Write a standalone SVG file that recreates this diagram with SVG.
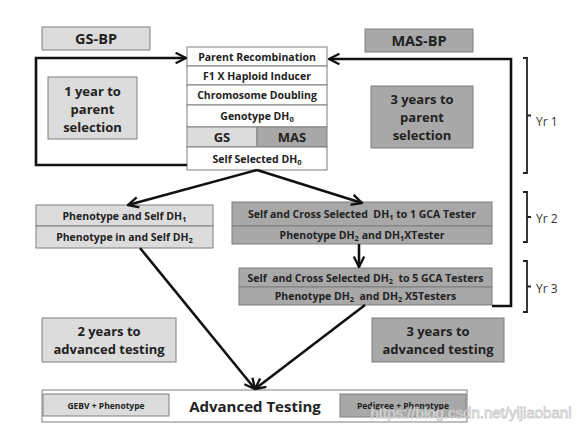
<svg xmlns="http://www.w3.org/2000/svg" width="587" height="431" viewBox="0 0 587 431">
<defs>
<marker id="ah" viewBox="0 0 10 10" refX="9" refY="5" markerWidth="5" markerHeight="5" orient="auto" markerUnits="strokeWidth">
<path d="M1,1 L9,5 L1,9" fill="none" stroke="#111" stroke-width="1.8"/>
</marker>
<style>
.lt{fill:#dcdcdc;stroke:#7f7f7f;stroke-width:1}
.dk{fill:#a8a8a8;stroke:#7f7f7f;stroke-width:1}
.wh{fill:#fff;stroke:#7f7f7f;stroke-width:1}
text{font-family:"Open Sans","Liberation Sans",sans-serif;font-weight:bold;fill:#222;text-anchor:middle;dominant-baseline:central}
.s{font-size:10.5px}
.b{font-size:13px}
.h{font-size:14.5px}
.yr{font-weight:normal;font-size:12px;text-anchor:start;fill:#333}
.sub{font-size:7.5px}
.c{fill:none;stroke:#111;stroke-width:2.6}
.br{fill:none;stroke:#222;stroke-width:1.8}
</style>
</defs>
<rect width="587" height="431" fill="#fff"/>

<g id="gs-bp"><rect class="lt" x="42" y="27" width="108" height="23"/><text class="h" x="96" y="38.5">GS-BP</text></g>
<g id="mas-bp"><rect class="dk" x="365" y="29" width="108" height="23"/><text class="h" x="419" y="40.5">MAS-BP</text></g>

<g id="yr1-gs"><rect class="lt" x="48" y="77" width="89" height="62"/><text class="b" x="92.5" y="91">1 year to</text><text class="b" x="92.5" y="109">parent</text><text class="b" x="92.5" y="127">selection</text></g>
<g id="yr3-mas"><rect class="dk" x="371" y="86" width="102" height="62"/><text class="b" x="422" y="99">3 years to</text><text class="b" x="422" y="117">parent</text><text class="b" x="422" y="135">selection</text></g>

<g id="stack">
<rect class="wh" x="187" y="47" width="140" height="19"/><text class="s" x="257" y="56.5">Parent Recombination</text>
<rect class="wh" x="187" y="66" width="140" height="19"/><text class="s" x="257" y="75.5">F1 X Haploid Inducer</text>
<rect class="wh" x="187" y="85" width="140" height="20"/><text class="s" x="257" y="95">Chromosome Doubling</text>
<rect class="wh" x="187" y="105" width="140" height="22"/><text class="s" x="257" y="116">Genotype DH<tspan class="sub" dy="3">0</tspan></text>
<rect class="lt" x="187" y="127" width="70" height="20"/><text class="b" x="222" y="137">GS</text>
<rect class="dk" x="257" y="127" width="70" height="20"/><text class="b" x="292" y="137">MAS</text>
<rect class="wh" x="187" y="147" width="140" height="23"/><text class="s" x="257" y="158.5">Self Selected DH<tspan class="sub" dy="3">0</tspan></text>
</g>

<g id="gs-pheno">
<rect class="lt" x="36" y="205" width="177" height="21"/><text class="s" x="124.5" y="215.5">Phenotype and Self DH<tspan class="sub" dy="3">1</tspan></text>
<rect class="lt" x="36" y="226" width="177" height="22"/><text class="s" x="124.5" y="237">Phenotype in and Self DH<tspan class="sub" dy="3">2</tspan></text>
</g>

<g id="mas-1gca">
<rect class="dk" x="232" y="202" width="260" height="24"/><text class="s" x="362" y="214" xml:space="preserve">Self and Cross Selected  DH<tspan class="sub" dy="3">1</tspan><tspan dy="-3"> to 1 GCA Tester</tspan></text>
<rect class="dk" x="232" y="226" width="260" height="18"/><text class="s" x="362" y="235">Phenotype DH<tspan class="sub" dy="3">2</tspan><tspan dy="-3"> and DH</tspan><tspan class="sub" dy="3">1</tspan><tspan dy="-3">XTester</tspan></text>
</g>

<g id="mas-5gca">
<rect class="dk" x="239" y="268" width="253" height="19"/><text class="s" x="365.5" y="277.5" xml:space="preserve">Self  and Cross Selected DH<tspan class="sub" dy="3">2</tspan><tspan dy="-3">  to 5 GCA Testers</tspan></text>
<rect class="dk" x="239" y="287" width="253" height="18"/><text class="s" x="365.5" y="296" xml:space="preserve">Phenotype DH<tspan class="sub" dy="3">2</tspan><tspan dy="-3">  and DH</tspan><tspan class="sub" dy="3">2</tspan><tspan dy="-3"> X5Testers</tspan></text>
</g>

<g id="yr2-adv"><rect class="lt" x="42" y="318" width="134" height="44"/><text class="b" x="109" y="331">2 years to</text><text class="b" x="109" y="349">advanced testing</text></g>
<g id="yr3-adv"><rect class="dk" x="372" y="318" width="132" height="44"/><text class="b" x="438" y="331">3 years to</text><text class="b" x="438" y="349">advanced testing</text></g>

<g id="advanced">
<rect class="wh" x="42" y="390" width="425" height="32" stroke="#555"/>
<rect class="lt" x="43" y="394" width="126" height="22"/><text x="106" y="405" style="font-size:8.5px">GEBV + Phenotype</text>
<rect class="dk" x="340" y="394" width="126" height="23"/><text x="403" y="405.5" style="font-size:8.5px">Pedigree + Phenotype</text>
<text x="255" y="406" style="font-size:15px">Advanced Testing</text>
</g>

<g id="years">
<path class="br" d="M523,58 H527 V173 H523 M527,115.5 H531"/><text class="yr" x="536" y="121">Yr 1</text>
<path class="br" d="M523,192 H527 V242 H523 M527,217 H531"/><text class="yr" x="536" y="218">Yr 2</text>
<path class="br" d="M523,261 H527 V312 H523 M527,286.5 H531"/><text class="yr" x="536" y="288">Yr 3</text>
</g>

<g id="connectors">
<path class="c" d="M187,165 H36 V58 H186" marker-end="url(#ah)"/>
<path class="c" d="M492,306 H511 V59 H329" marker-end="url(#ah)"/>
<path class="c" d="M257,170 L128,205" marker-end="url(#ah)"/>
<path class="c" d="M257,170 L362,203" marker-end="url(#ah)"/>
<path class="c" d="M359,244 V267" marker-end="url(#ah)"/>
<path class="c" d="M140,248 L255,389" marker-end="url(#ah)"/>
<path class="c" d="M365,305 L255,389" marker-end="url(#ah)"/>
</g>

<text x="471" y="412" style="font-family:'Liberation Sans',sans-serif;font-weight:normal;font-size:15px;fill:#fff;stroke:#c4c4c4;stroke-width:0.8;opacity:0.9">https://blog.csdn.net/yijiaobani</text>
</svg>
